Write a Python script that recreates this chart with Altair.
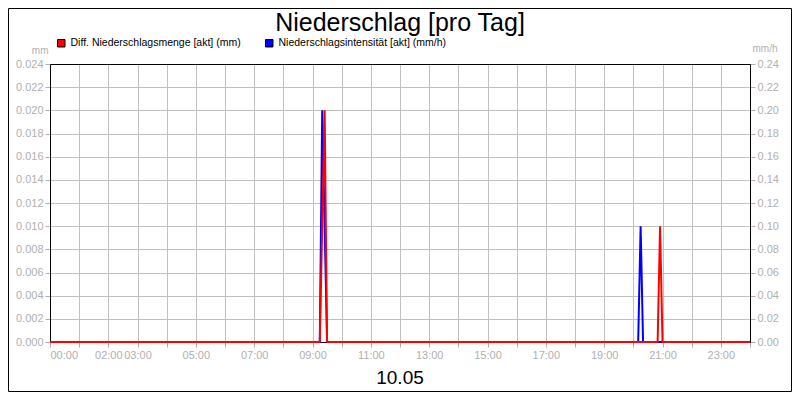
import altair as alt
import pandas as pd

# ---------------- data ----------------
title_text = "Niederschlag [pro Tag]"
date_text = "10.05"
red_name = "Diff. Niederschlagsmenge [akt] (mm)"
blue_name = "Niederschlagsintensität [akt] (mm/h)"

red_times = ["00:00", "09:15", "09:25", "09:30", "20:50", "20:55", "21:00", "24:00"]
red_values = [0.0, 0.0, 0.02, 0.0, 0.0, 0.01, 0.0, 0.0]

blue_times = ["00:00", "09:15", "09:20", "09:30", "20:10", "20:15", "20:20", "24:00"]
blue_values = [0.0, 0.0, 0.2, 0.0, 0.0, 0.1, 0.0, 0.0]

hour_ticks = [0, 1, 2, 3, 4, 5, 6, 7, 8, 9, 10, 11, 12, 13, 14, 15, 16, 17, 18, 19, 20, 21, 22, 23, 24]
hour_labels = [0, 2, 3, 5, 7, 9, 11, 13, 15, 17, 19, 21, 23]
left_ticks = [0.0, 0.002, 0.004, 0.006, 0.008, 0.010, 0.012, 0.014, 0.016, 0.018, 0.020, 0.022, 0.024]
right_ticks = [0.0, 0.02, 0.04, 0.06, 0.08, 0.10, 0.12, 0.14, 0.16, 0.18, 0.20, 0.22, 0.24]


def to_hours(t):
    h, m = t.split(":")
    return int(h) + int(m) / 60.0


red_df = pd.DataFrame({"h": [to_hours(t) for t in red_times], "v": red_values})
blue_df = pd.DataFrame({"h": [to_hours(t) for t in blue_times], "v": blue_values})

FONT = "Liberation Sans"
GRAY = "#b0b0b0"
GRID = "#c0c0c0"

label_list = "[" + ",".join(str(v) for v in hour_labels) + "]"
x_label_expr = (
    f"indexof({label_list}, datum.value) >= 0 ? "
    "((datum.value < 10 ? '0' : '') + datum.value + ':00') : ''"
)

x_axis = alt.Axis(
    values=hour_ticks,
    labelExpr=x_label_expr,
    title=None,
    grid=True,
    gridColor={"condition": {"test": "datum.value <= 0 || datum.value >= 24", "value": "#000000"}, "value": GRID},
    labelOverlap=False,
    labelFont=FONT,
    labelFontSize=11,
    labelColor=GRAY,
    labelPadding=2,
    tickColor=GRAY,
    tickSize=5,
    domainColor="#000000",
)

x_enc = alt.X("h:Q", scale=alt.Scale(domain=[0, 24], nice=False, zero=False), axis=x_axis)

blue_layer = alt.Chart(blue_df).mark_line(
    color="#0000ff", strokeWidth=2, strokeJoin="bevel"
).encode(
    x=x_enc,
    y=alt.Y(
        "v:Q",
        scale=alt.Scale(domain=[0, 0.24], nice=False),
        axis=alt.Axis(
            orient="right",
            values=right_ticks,
            format=".2f",
            grid=False,
            title="mm/h",
            titleAngle=0,
            titleAlign="left",
            titleBaseline="middle",
            titleX=2,
            titleY=-16,
            titleColor=GRAY,
            titleFont=FONT,
            titleFontSize=10,
            titleFontWeight="normal",
            labelFont=FONT,
            labelFontSize=11,
            labelColor=GRAY,
            labelPadding=2,
            tickColor=GRAY,
            tickSize=5,
            domainColor="#000000",
        ),
    ),
)

red_layer = alt.Chart(red_df).mark_line(
    color="#ff0000", strokeWidth=2, strokeJoin="bevel"
).encode(
    x=x_enc,
    y=alt.Y(
        "v:Q",
        scale=alt.Scale(domain=[0, 0.024], nice=False),
        axis=alt.Axis(
            orient="left",
            values=left_ticks,
            format=".3f",
            grid=True,
            gridColor={"condition": {"test": "datum.value >= 0.0239 || datum.value <= 0", "value": "#000000"}, "value": GRID},
            title="mm",
            titleAngle=0,
            titleAlign="right",
            titleBaseline="middle",
            titleX=-2,
            titleY=-14,
            titleColor=GRAY,
            titleFont=FONT,
            titleFontSize=10,
            titleFontWeight="normal",
            labelFont=FONT,
            labelFontSize=11,
            labelColor=GRAY,
            labelPadding=2,
            tickColor=GRAY,
            tickSize=5,
            domainColor="#000000",
        ),
    ),
)

legend_df = pd.DataFrame({"s": [red_name, blue_name]})
legend_layer = alt.Chart(legend_df).mark_square(filled=True, opacity=1).encode(
    x=alt.value(0),
    y=alt.value(0),
    fill=alt.Fill(
        "s:N",
        scale=alt.Scale(domain=[red_name, blue_name], range=["#ff0000", "#0000ff"]),
        legend=alt.Legend(
            title=None,
            orient="none",
            legendX=6,
            legendY=-26,
            direction="horizontal",
            symbolType="square",
            symbolSize=56,
            symbolOpacity=1,
            symbolStrokeColor="#000000",
            symbolStrokeWidth=1,
            labelFont=FONT,
            labelFontSize=10.5,
            labelColor="#000000",
            labelOffset=4,
            labelLimit=400,
            columnPadding=22,
            padding=0,
        ),
    ),
).transform_filter("false")

title_layer = alt.Chart(pd.DataFrame({"t": [title_text]})).mark_text(
    font=FONT, fontSize=25, color="#000000", align="center", baseline="alphabetic"
).encode(text="t:N", x=alt.value(350), y=alt.value(-33))

date_layer = alt.Chart(pd.DataFrame({"t": [date_text]})).mark_text(
    font=FONT, fontSize=19, color="#000000", align="center", baseline="alphabetic"
).encode(text="t:N", x=alt.value(350), y=alt.value(320))

border_layer = alt.Chart(pd.DataFrame({"b": [0]})).mark_rect(
    filled=False, stroke="#000000", strokeWidth=1
).encode(
    x=alt.value(-41.5), x2=alt.value(741.5), y=alt.value(-55.5), y2=alt.value(327.5)
)

chart = alt.layer(
    blue_layer, red_layer, legend_layer, title_layer, date_layer, border_layer
).resolve_scale(
    y="independent"
).properties(
    width=700,
    height=278,
    autosize=alt.AutoSizeParams(type="none"),
    padding={"left": 42, "top": 56, "right": 42, "bottom": 50},
    background="#ffffff",
).configure_view(
    stroke="#000000", strokeWidth=1
)

chart.save("out.html", embed_options={"renderer": "svg", "actions": False})
